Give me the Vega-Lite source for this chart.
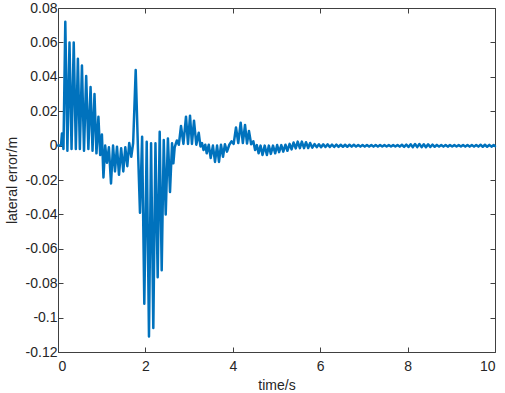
{
  "$schema": "https://vega.github.io/schema/vega-lite/v6.json",
  "width": 437,
  "height": 344,
  "autosize": {"type": "none"},
  "padding": {"left": 58, "top": 8, "right": 10, "bottom": 41},
  "background": "white",
  "config": {
    "view": {"stroke": "#404040", "strokeWidth": 1},
    "axis": {
      "grid": false,
      "domain": false,
      "tickColor": "#404040",
      "tickSize": -5,
      "labelFont": "Liberation Sans",
      "labelFontSize": 14,
      "labelColor": "#262626",
      "titleFont": "Liberation Sans",
      "titleFontSize": 14,
      "titleFontWeight": "normal",
      "titleColor": "#262626"
    }
  },
  "data": {"values": [
    {"t":0,"e":0},{"t":0.04,"e":0},{"t":0.07,"e":0.0005},{"t":0.09,"e":0.007},{"t":0.125,"e":-0.002},
    {"t":0.167,"e":0.072},{"t":0.215,"e":-0.003},{"t":0.263,"e":0.060},{"t":0.31,"e":-0.002},
    {"t":0.36,"e":0.060},{"t":0.408,"e":-0.002},{"t":0.455,"e":0.0505},{"t":0.50,"e":-0.002},
    {"t":0.548,"e":0.0465},{"t":0.595,"e":-0.003},{"t":0.645,"e":0.0405},{"t":0.695,"e":-0.002},
    {"t":0.745,"e":0.034},{"t":0.79,"e":-0.003},{"t":0.835,"e":0.030},{"t":0.88,"e":-0.0045},
    {"t":0.925,"e":0.0168},{"t":0.965,"e":-0.0055},{"t":1.005,"e":0.0065},{"t":1.04,"e":-0.0185},
    {"t":1.08,"e":0.0},{"t":1.12,"e":-0.010},{"t":1.165,"e":-0.001},{"t":1.213,"e":-0.022},
    {"t":1.26,"e":0.0},{"t":1.304,"e":-0.015},{"t":1.35,"e":-0.0006},{"t":1.396,"e":-0.017},
    {"t":1.445,"e":-0.0015},{"t":1.494,"e":-0.015},{"t":1.54,"e":-0.001},{"t":1.586,"e":-0.012},
    {"t":1.63,"e":0.0015},{"t":1.677,"e":-0.0065},{"t":1.72,"e":0.0015},{"t":1.778,"e":0.044},
    {"t":1.83,"e":-0.002},{"t":1.876,"e":-0.039},{"t":1.925,"e":0.0052},{"t":1.975,"e":-0.092},
    {"t":2.03,"e":0.0023},{"t":2.082,"e":-0.111},{"t":2.13,"e":0.0013},{"t":2.181,"e":-0.106},
    {"t":2.23,"e":0.0013},{"t":2.281,"e":-0.0766},{"t":2.327,"e":0.0081},{"t":2.373,"e":-0.0725},
    {"t":2.42,"e":0.0033},{"t":2.465,"e":-0.040},{"t":2.515,"e":0.0042},{"t":2.563,"e":-0.027},
    {"t":2.61,"e":0.0013},{"t":2.64,"e":-0.0103},{"t":2.67,"e":-0.001},{"t":2.72,"e":0.003},
    {"t":2.765,"e":0.0005},{"t":2.815,"e":0.0114},{"t":2.87,"e":0.001},{"t":2.929,"e":0.0168},
    {"t":2.975,"e":0.001},{"t":3.021,"e":0.0174},{"t":3.065,"e":0.001},{"t":3.112,"e":0.0145},
    {"t":3.165,"e":0.0005},{"t":3.22,"e":0.0075},{"t":3.26,"e":-0.0005},{"t":3.295,"e":0.0015},
    {"t":3.33,"e":-0.0026},{"t":3.37,"e":0.0005},{"t":3.403,"e":-0.0045},{"t":3.45,"e":0.0005},
    {"t":3.494,"e":-0.0072},{"t":3.545,"e":0.0},{"t":3.593,"e":-0.0095},{"t":3.64,"e":0.0},
    {"t":3.684,"e":-0.0095},{"t":3.73,"e":0.0005},{"t":3.776,"e":-0.0065},{"t":3.82,"e":0.0008},
    {"t":3.867,"e":-0.0035},{"t":3.92,"e":0.0005},{"t":3.97,"e":0.0025},{"t":4.02,"e":0.001},
    {"t":4.073,"e":0.0105},{"t":4.125,"e":0.0015},{"t":4.18,"e":0.0133},{"t":4.23,"e":0.0015},
    {"t":4.28,"e":0.012},{"t":4.325,"e":0.0012},{"t":4.37,"e":0.0085},{"t":4.42,"e":0.0008},
    {"t":4.47,"e":0.0025},{"t":4.51,"e":-0.0026},{"t":4.55,"e":0.0003},{"t":4.59,"e":-0.0045},
    {"t":4.635,"e":0.0},{"t":4.68,"e":-0.0055},{"t":4.73,"e":0.0},{"t":4.78,"e":-0.0055},
    {"t":4.825,"e":0.0},{"t":4.87,"e":-0.0048},{"t":4.92,"e":0.0},{"t":4.97,"e":-0.0045},
    {"t":5.015,"e":0.0003},{"t":5.06,"e":-0.0038},{"t":5.11,"e":0.0003},{"t":5.155,"e":-0.0035},
    {"t":5.205,"e":0.0005},{"t":5.25,"e":-0.003},{"t":5.30,"e":0.001},{"t":5.345,"e":-0.0022},
    {"t":5.39,"e":0.0018},{"t":5.44,"e":-0.0016},{"t":5.485,"e":0.0023},{"t":5.535,"e":-0.0015},
    {"t":5.58,"e":0.0023},{"t":5.63,"e":-0.0015},{"t":5.675,"e":0.002},{"t":5.725,"e":-0.0014},
    {"t":5.77,"e":0.0015},{"t":5.82,"e":-0.0012},
    {"t":5.87,"e":0.0009},{"t":5.92,"e":-0.0009},{"t":5.97,"e":0.0008},{"t":6.02,"e":-0.0009},
    {"t":6.07,"e":0.0007},{"t":6.12,"e":-0.0008},{"t":6.17,"e":0.0007},{"t":6.22,"e":-0.0008},
    {"t":6.27,"e":0.0006},{"t":6.32,"e":-0.0008},{"t":6.37,"e":0.0006},{"t":6.42,"e":-0.0007},
    {"t":6.47,"e":0.0005},{"t":6.52,"e":-0.0007},{"t":6.57,"e":0.0005},{"t":6.62,"e":-0.0007},
    {"t":6.67,"e":0.0005},{"t":6.72,"e":-0.0006},{"t":6.77,"e":0.0005},{"t":6.82,"e":-0.0006},
    {"t":6.87,"e":0.0004},{"t":6.92,"e":-0.0006},{"t":6.97,"e":0.0004},{"t":7.02,"e":-0.0006},
    {"t":7.07,"e":0.0004},{"t":7.12,"e":-0.0006},{"t":7.17,"e":0.0004},{"t":7.22,"e":-0.0006},
    {"t":7.27,"e":0.0004},{"t":7.32,"e":-0.0006},{"t":7.37,"e":0.0004},{"t":7.42,"e":-0.0005},
    {"t":7.47,"e":0.0003},{"t":7.52,"e":-0.0005},{"t":7.57,"e":0.0003},{"t":7.62,"e":-0.0005},
    {"t":7.67,"e":0.0003},{"t":7.72,"e":-0.0005},{"t":7.77,"e":0.0004},{"t":7.82,"e":-0.0006},
    {"t":7.87,"e":0.0005},{"t":7.92,"e":-0.0007},{"t":7.97,"e":0.0006},{"t":8.02,"e":-0.0008},
    {"t":8.07,"e":0.0008},{"t":8.12,"e":-0.0009},{"t":8.17,"e":0.0009},{"t":8.22,"e":-0.0009},
    {"t":8.27,"e":0.0009},{"t":8.32,"e":-0.0009},{"t":8.37,"e":0.0008},{"t":8.42,"e":-0.0009},
    {"t":8.47,"e":0.0007},{"t":8.52,"e":-0.0008},{"t":8.57,"e":0.0006},{"t":8.62,"e":-0.0007},
    {"t":8.67,"e":0.0004},{"t":8.72,"e":-0.0006},{"t":8.77,"e":0.0004},{"t":8.82,"e":-0.0006},
    {"t":8.87,"e":0.0004},{"t":8.92,"e":-0.0006},{"t":8.97,"e":0.0003},{"t":9.02,"e":-0.0005},
    {"t":9.07,"e":0.0003},{"t":9.12,"e":-0.0005},{"t":9.17,"e":0.0003},{"t":9.22,"e":-0.0005},
    {"t":9.27,"e":0.0004},{"t":9.32,"e":-0.0006},{"t":9.37,"e":0.0004},{"t":9.42,"e":-0.0006},
    {"t":9.47,"e":0.0004},{"t":9.52,"e":-0.0006},{"t":9.57,"e":0.0004},{"t":9.62,"e":-0.0006},
    {"t":9.67,"e":0.0005},{"t":9.72,"e":-0.0007},{"t":9.77,"e":0.0005},{"t":9.82,"e":-0.0007},
    {"t":9.87,"e":0.0004},{"t":9.92,"e":-0.0006},{"t":9.97,"e":0.0003},{"t":10.0,"e":-0.0003}
  ]},
  "layer": [
    {
      "mark": {"type": "line", "color": "#0072BD", "strokeWidth": 2.5, "strokeJoin": "round", "strokeCap": "round"},
      "encoding": {
        "x": {"field": "t", "type": "quantitative",
              "scale": {"domain": [0, 10], "nice": false, "zero": false},
              "axis": {"orient": "bottom", "title": "time/s", "values": [0,2,4,6,8,10], "labelPadding": 12, "titlePadding": 5}},
        "y": {"field": "e", "type": "quantitative",
              "scale": {"domain": [-0.12, 0.08], "nice": false, "zero": false},
              "axis": {"orient": "left", "title": "lateral error/m", "values": [-0.12,-0.1,-0.08,-0.06,-0.04,-0.02,0,0.02,0.04,0.06,0.08],
                       "labelExpr": "'' + datum.value", "labelPadding": 6, "titlePadding": 6}}
      }
    },
    {
      "mark": {"type": "point", "opacity": 0},
      "encoding": {
        "x": {"field": "t", "type": "quantitative",
              "axis": {"orient": "top", "title": null, "labels": false, "values": [0,2,4,6,8,10]}},
        "y": {"field": "e", "type": "quantitative",
              "axis": {"orient": "right", "title": null, "labels": false, "values": [-0.12,-0.1,-0.08,-0.06,-0.04,-0.02,0,0.02,0.04,0.06,0.08]}}
      }
    }
  ]
}
